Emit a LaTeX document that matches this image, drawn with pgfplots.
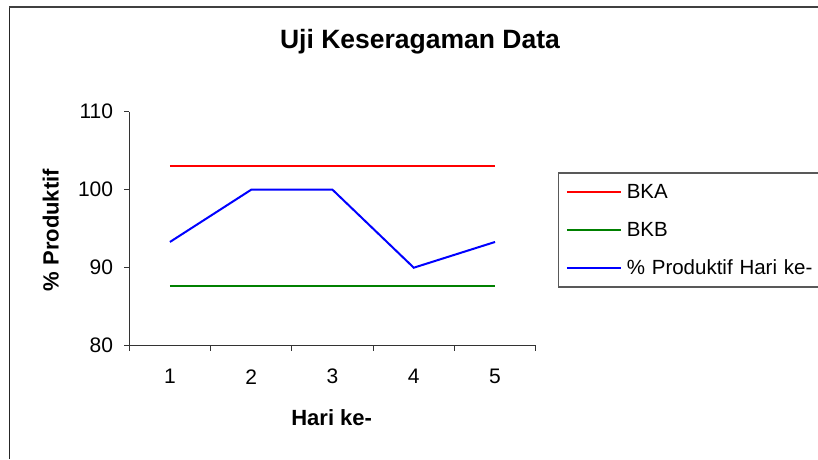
\documentclass[border=0pt]{standalone}
\usepackage{fontspec}
\setmainfont{Liberation Sans}
\usepackage{pgfplots}
\pgfplotsset{compat=1.18}
\definecolor{bka}{RGB}{255,0,0}
\definecolor{bkb}{RGB}{0,128,0}
\definecolor{prod}{RGB}{0,0,255}
\begin{document}
\begin{tikzpicture}
\useasboundingbox (0,0) rectangle (818pt,459pt);
\clip (0,0) rectangle (818pt,459pt);
\fill[white] (0,0) rectangle (818pt,459pt);
\draw[black!85, line width=1.5pt] (9.5pt,0pt) -- (9.5pt,451.5pt);
\draw[black!75, line width=2pt] (9pt,451.5pt) -- (830pt,451.5pt);
\begin{axis}[
  at={(129.3pt,113.3pt)}, anchor=south west,
  scale only axis, width=406.4pt, height=234pt,
  xmin=0.5, xmax=5.5, ymin=80, ymax=110,
  axis lines*=left,
  axis line style={black!80, line width=1pt},
  tick align=outside,
  xtick={1,2,3,4,5},
  major x tick style={draw=none},
  minor xtick={0.5,1.5,2.5,3.5,4.5,5.5},
  minor tick length=5pt,
  minor x tick style={black!80, line width=1pt},
  ytick={80,90,100,110},
  major tick length=5pt,
  major y tick style={black!80, line width=1pt},
  /pgf/number format/assume math mode=true,
  ticklabel style={font=\fontsize{21}{24}\selectfont},
  xticklabel style={anchor=center, inner sep=0pt, yshift=-26pt},
  yticklabel style={anchor=east, inner sep=0pt, xshift=-11pt},
  title={Uji Keseragaman Data},
  title style={at={(0.7153,1.275)}, anchor=center, font=\fontsize{26.5}{30}\selectfont\bfseries},
  xlabel={Hari ke-},
  xlabel style={at={(0.498,-0.309)}, anchor=center, font=\fontsize{22}{26}\selectfont\bfseries},
  ylabel={\% Produktif},
  ylabel style={at={(-0.1934,0.494)}, anchor=center, rotate=0, font=\fontsize{22}{26}\selectfont\bfseries},
  legend style={at={(1.0553,0.741)}, anchor=north west,
    draw=black!65, line width=1.2pt, fill=white,
    font=\fontsize{20.5}{24}\selectfont,
    inner xsep=7pt, inner ysep=0pt,
    row sep=0pt, column sep=5pt,
    nodes={inner sep=0pt, text height=25.5pt, text depth=12.5pt, text width=220pt, align=left}},
  legend cell align=left,
  legend image code/.code={\path[draw=none,fill=none] (0pt,-19pt) rectangle (54pt,19pt);\draw[#1, line width=2pt] (0pt,0pt) -- (54pt,0pt);},
]
\addplot[bka, line width=2pt] coordinates {(1,103.0) (2,103.0) (3,103.0) (4,103.0) (5,103.0)};
\addlegendentry{BKA}
\addplot[bkb, line width=2pt] coordinates {(1,87.7) (2,87.7) (3,87.7) (4,87.7) (5,87.7)};
\addlegendentry{BKB}
\addplot[prod, line width=2pt] coordinates {(1,93.3) (2,100) (3,100) (4,90) (5,93.3)};
\addlegendentry{\% Produktif Hari ke-}
\end{axis}
\end{tikzpicture}
\end{document}
